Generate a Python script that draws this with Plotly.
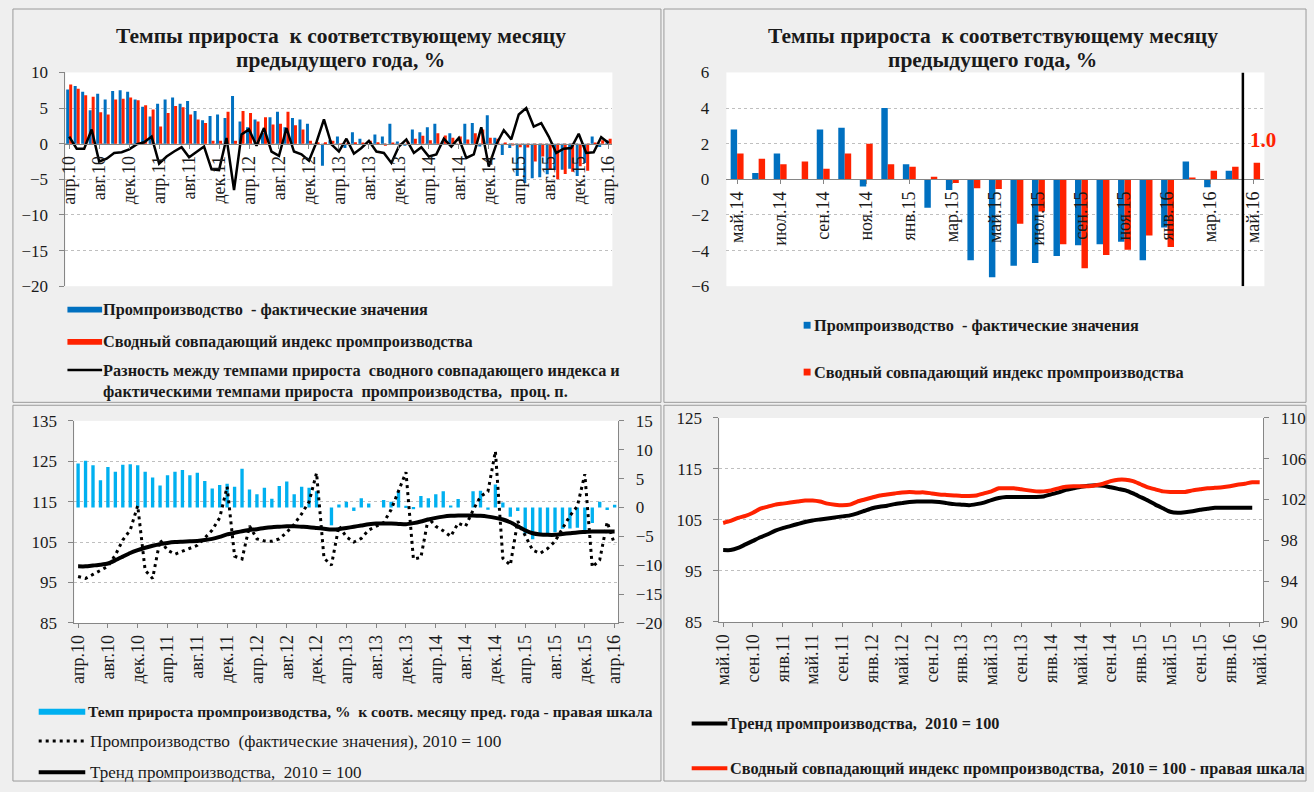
import plotly.graph_objects as go

W, H = 1314, 792
def fx(p): return p / W
def fy(p): return 1 - p / H

SERIF = "Liberation Serif"
BLUE = "#0070C0"
RED = "#FF2200"
CYAN = "#00B0F0"
GRID = "#BFBFBF"
AXIS = "#868686"
TXT = "#1a1a1a"
BORDER = "#9a9a9a"

MONTHS = ["янв", "фев", "мар", "апр", "май", "июн", "июл", "авг", "сен", "окт", "ноя", "дек"]
def month_labels(m0, y0, n):
    out, m, y = [], m0, y0
    for _ in range(n):
        out.append(f"{MONTHS[m]}.{y:02d}")
        m += 1
        if m == 12:
            m, y = 0, y + 1
    return out

# ---------------- data ----------------
TL_CATS = month_labels(3, 10, 73)          # апр.10 .. апр.16
TL_TICKS = ["апр.10", "авг.10", "дек.10", "апр.11", "авг.11", "дек.11", "апр.12", "авг.12", "дек.12",
            "апр.13", "авг.13", "дек.13", "апр.14", "авг.14", "дек.14", "апр.15", "авг.15", "дек.15", "апр.16"]
TL_BLUE = [7.6, 8.1, 7.3, 4.7, 7.0, 6.2, 7.4, 7.5, 7.3, 6.2, 5.2, 3.8,
           5.6, 6.2, 6.5, 5.6, 6.0, 4.6, 3.3, 3.9, 4.1, 3.6, 6.7, 3.1,
           2.3, 3.4, 1.5, 3.7, 4.5, 2.3, 3.6, 3.4, 2.8, 0.0, -3.1, 0.5,
           1.0, -0.6, 1.6, 0.7, 0.0, 1.3, 1.0, 2.8, 0.3, -0.3, 2.0, 1.6,
           2.3, 2.8, 0.35, 1.45, 0.0, 2.8, 2.9, -0.4, 4.0, 0.85, -1.6, -0.6,
           -4.55, -5.5, -4.85, -4.7, -4.3, -3.7, -3.65, -3.5, -4.55, -2.7, 1.0, -0.45,
           0.48]
TL_RED = [8.3, 7.7, 6.8, 6.6, 4.4, 4.1, 6.2, 6.3, 6.5, 6.1, 5.4, 4.8,
          2.4, 4.3, 5.3, 5.1, 4.1, 3.4, 2.9, 0.4, 0.4, 4.5, 0.4, 4.6,
          4.3, 3.1, 3.7, 2.7, 2.8, 4.5, 2.6, 2.0, 0.4, 0.2, 0.2, 0.4,
          -0.1, 0.1, 0.2, 0.1, 0.4, 0.2, -0.3, 0.1, -0.1, 0.3, 0.7, 1.1,
          0.5, 1.45, 1.15, 0.85, 1.0, 0.6, 1.45, 2.0, 0.85, 0.7, 0.15, -0.2,
          -0.5, -0.55, -2.5, -1.8, -3.65, -5.0, -4.25, -3.95, -3.15, -3.8, 0.05, 0.48,
          0.7]
TL_DIFF = [1.0, -0.7, -0.7, 2.0, -2.5, -2.1, -1.3, -1.2, -0.8, -0.1, 0.2, 1.0,
           -2.8, -1.8, -1.1, -0.5, -1.9, -1.2, -0.4, -3.6, -3.7, 0.8, -6.5, 1.3,
           2.0, -0.3, 2.2, -1.1, -1.7, 2.2, -1.1, -1.5, -2.4, 0.2, 3.4, -0.1,
           -1.1, 0.7, -1.4, -0.6, 0.4, -1.1, -1.3, -2.7, -0.4, 0.6, -1.3, -0.5,
           -1.8, -1.5, 0.7, -0.4, 0.8, -2.0, -1.5, 2.3, -3.2, -0.1, 1.9, 0.6,
           4.1, 5.0, 2.4, 2.9, 1.0, -1.3, -0.7, -0.6, 1.4, -1.3, -1.2, 0.9,
           0.1]

TR_CATS = month_labels(4, 14, 25)          # май.14 .. май.16
TR_TICKS = ["май.14", "июл.14", "сен.14", "ноя.14", "янв.15", "мар.15", "май.15",
            "июл.15", "сен.15", "ноя.15", "янв.16", "мар.16", "май.16"]
TR_BLUE = [2.8, 0.35, 1.45, 0.0, 2.8, 2.9, -0.4, 4.0, 0.85, -1.6, -0.6, -4.55,
           -5.5, -4.85, -4.7, -4.3, -3.7, -3.65, -3.5, -4.55, -2.7, 1.0, -0.45, 0.48, None]
TR_RED = [1.45, 1.15, 0.85, 1.0, 0.6, 1.45, 2.0, 0.85, 0.7, 0.15, -0.2, -0.5,
          -0.55, -2.5, -1.8, -3.65, -5.0, -4.25, -3.95, -3.15, -3.8, 0.05, 0.48, 0.7, 0.93]
TR_LAST_LABEL = "1.0"

BL_CATS = TL_CATS
BL_TICKS = TL_TICKS
BL_GROWTH = TL_BLUE
BL_ACTUAL = [96.5, 96.0, 97.0, 98.0, 99.0, 101.8, 105.5, 108.0, 114.0,
             98.0, 96.0, 105.5, 103.0, 102.0, 102.7, 103.5, 104.2, 106.0, 108.0, 111.0, 118.7,
             101.5, 100.8, 109.0, 105.8, 105.3, 105.2, 105.8, 107.4, 109.4, 112.0, 115.0, 122.1,
             101.0, 99.3, 109.0, 106.3, 105.0, 105.9, 108.0, 108.9, 109.8, 113.0, 117.5, 122.3,
             100.8, 101.2, 111.0, 108.9, 107.8, 106.4, 109.7, 108.9, 112.9, 116.3, 117.5, 127.5,
             101.0, 99.3, 110.2, 106.5, 103.0, 102.2, 103.4, 105.2, 108.2, 111.5, 113.9, 121.8,
             98.8, 100.6, 110.0, 104.4]
BL_TREND = [99.0, 99.0, 99.2, 99.4, 99.7, 100.5, 101.4, 102.3, 103.0, 103.6, 104.1, 104.5,
            104.8, 105.0, 105.1, 105.2, 105.3, 105.5, 105.8, 106.3, 106.9, 107.3, 107.7, 108.0,
            108.2, 108.5, 108.7, 108.8, 108.9, 108.9, 108.8, 108.7, 108.5, 108.3, 108.1, 108.2,
            108.5, 108.8, 109.1, 109.4, 109.6, 109.6, 109.6, 109.5, 109.4, 109.7, 110.1, 110.6,
            111.0, 111.3, 111.5, 111.6, 111.6, 111.6, 111.5, 111.3, 111.0, 110.6, 109.9, 108.9,
            107.9, 107.2, 106.9, 106.8, 106.8, 107.0, 107.2, 107.4, 107.5, 107.6, 107.6, 107.6,
            107.6]

BR_CATS = month_labels(4, 10, 73)          # май.10 .. май.16
BR_TICKS = ["май.10", "сен.10", "янв.11", "май.11", "сен.11", "янв.12", "май.12", "сен.12", "янв.13",
            "май.13", "сен.13", "янв.14", "май.14", "сен.14", "янв.15", "май.15", "сен.15", "янв.16", "май.16"]
BR_TREND = [99.1, 99.1, 99.5, 100.2, 100.9, 101.6, 102.2, 102.9, 103.4, 103.8, 104.2, 104.6,
            104.9, 105.1, 105.3, 105.5, 105.7, 105.9, 106.3, 106.8, 107.3, 107.6, 107.8, 108.1,
            108.3, 108.5, 108.6, 108.6, 108.6, 108.5, 108.3, 108.1, 108.0, 107.9, 108.1, 108.4,
            108.9, 109.3, 109.5, 109.5, 109.5, 109.5, 109.5, 109.6, 110.0, 110.4, 110.9, 111.2,
            111.5, 111.7, 111.8, 111.7, 111.4, 111.1, 110.8, 110.2, 109.5, 108.8, 108.0, 107.3,
            106.6, 106.4, 106.5, 106.7, 107.0, 107.2, 107.4, 107.4, 107.4, 107.4, 107.4, 107.4,
            None]
BR_COMPOSITE = [99.7, 99.9, 100.2, 100.4, 100.7, 101.1, 101.3, 101.5, 101.6, 101.7, 101.8, 101.9,
                101.9, 101.8, 101.6, 101.5, 101.45, 101.5, 101.8, 102.0, 102.2, 102.4, 102.5, 102.6,
                102.7, 102.75, 102.7, 102.7, 102.6, 102.5, 102.45, 102.4, 102.35, 102.35, 102.4, 102.6,
                102.8, 103.1, 103.1, 103.1, 103.0, 102.9, 102.8, 102.8, 102.9, 103.1, 103.25, 103.3,
                103.3, 103.3, 103.4, 103.55, 103.8, 103.95, 103.95, 103.8, 103.5, 103.2, 103.0, 102.8,
                102.75, 102.75, 102.75, 102.9, 103.0, 103.1, 103.15, 103.2, 103.3, 103.45, 103.55, 103.7,
                103.7]

TITLE_LINES = ["Темпы прироста  к соответствующему месяцу", "предыдущего года, %"]
TL_LEGEND = ["Промпроизводство  - фактические значения",
             "Сводный совпадающий индекс промпроизводства",
             "Разность между темпами прироста  сводного совпадающего индекса и",
             "фактическими темпами прироста  промпроизводства,  проц. п."]
TR_LEGEND = ["Промпроизводство  - фактические значения",
             "Сводный совпадающий индекс промпроизводства"]
BL_LEGEND = ["Темп прироста промпроизводства, %  к соотв. месяцу пред. года - правая шкала",
             "Промпроизводство  (фактические значения), 2010 = 100",
             "Тренд промпроизводства,  2010 = 100"]
BR_LEGEND = ["Тренд промпроизводства,  2010 = 100",
             "Сводный совпадающий индекс промпроизводства,  2010 = 100 - правая шкала"]

for arr, n in [(TL_BLUE, 73), (TL_RED, 73), (TL_DIFF, 73), (TR_BLUE, 25), (TR_RED, 25),
               (BL_ACTUAL, 73), (BL_TREND, 73), (BR_TREND, 73), (BR_COMPOSITE, 73)]:
    assert len(arr) == n, (len(arr), n)

# ---------------- traces ----------------
fig = go.Figure()
fig.add_trace(go.Bar(x=TL_CATS, y=TL_BLUE, xaxis="x", yaxis="y", width=0.4, offset=-0.4,
                     marker=dict(color=BLUE, line=dict(width=0)), showlegend=False))
fig.add_trace(go.Bar(x=TL_CATS, y=TL_RED, xaxis="x", yaxis="y", width=0.4, offset=0.0,
                     marker=dict(color=RED, line=dict(width=0)), showlegend=False))
fig.add_trace(go.Scatter(x=TL_CATS, y=TL_DIFF, xaxis="x", yaxis="y", mode="lines",
                         line=dict(color="black", width=2.5), showlegend=False))

fig.add_trace(go.Bar(x=TR_CATS, y=TR_BLUE, xaxis="x2", yaxis="y2", width=0.3, offset=-0.3,
                     marker=dict(color=BLUE, line=dict(width=0)), showlegend=False))
fig.add_trace(go.Bar(x=TR_CATS, y=TR_RED, xaxis="x2", yaxis="y2", width=0.3, offset=0.0,
                     marker=dict(color=RED, line=dict(width=0)), showlegend=False))

fig.add_trace(go.Bar(x=BL_CATS, y=BL_GROWTH, xaxis="x3", yaxis="y3", width=0.45, offset=-0.225,
                     marker=dict(color=CYAN, line=dict(width=0)), showlegend=False))
fig.add_trace(go.Scatter(x=BL_CATS, y=BL_ACTUAL, xaxis="x3", yaxis="y4", mode="lines",
                         line=dict(color="black", width=3, dash="3px,4px"), showlegend=False))
fig.add_trace(go.Scatter(x=BL_CATS, y=BL_TREND, xaxis="x3", yaxis="y4", mode="lines",
                         line=dict(color="black", width=4, shape="spline", smoothing=0.6), showlegend=False))

fig.add_trace(go.Scatter(x=BR_CATS, y=BR_TREND, xaxis="x4", yaxis="y5", mode="lines",
                         line=dict(color="black", width=4, shape="spline", smoothing=0.6), showlegend=False))
fig.add_trace(go.Scatter(x=BR_CATS, y=BR_COMPOSITE, xaxis="x4", yaxis="y6", mode="lines",
                         line=dict(color=RED, width=4, shape="spline", smoothing=0.6), showlegend=False))

# ---------------- axes ----------------
xfont = dict(family=SERIF, size=18, color=TXT)
yfont = dict(family=SERIF, size=17, color=TXT)
def cat_x(domain, cats, ticks, **kw):
    d = dict(domain=domain, type="category", categoryorder="array", categoryarray=cats,
             range=[-0.5, len(cats) - 0.5], tickmode="array", tickvals=ticks, ticktext=ticks,
             tickangle=-90, showline=True, linecolor=AXIS, linewidth=1, ticks="outside",
             ticklen=4, tickcolor=AXIS, showgrid=False, zeroline=False, tickfont=xfont,
             fixedrange=True)
    d.update(kw)
    return d

tl_y = [fy(284), fy(65)]
pos_tl = tl_y[0] + (tl_y[1] - tl_y[0]) * 20 / 30
pos_tr = (tl_y[0] + tl_y[1]) / 2

layout_axes = dict(
    xaxis=cat_x([fx(60), fx(612)], TL_CATS, TL_TICKS, anchor="free", position=pos_tl),
    yaxis=dict(domain=tl_y, anchor="x", range=[-20, 10], tickmode="linear", tick0=0, dtick=5,
               showgrid=True, gridcolor=GRID, griddash="dot", gridwidth=1, zeroline=False,
               showline=True, linecolor=AXIS, ticks="outside", ticklen=5, tickcolor=AXIS,
               ticklabelstandoff=8, tickfont=yfont, fixedrange=True),
    xaxis2=cat_x([fx(727), fx(1270)], TR_CATS, TR_TICKS, anchor="free", position=pos_tr),
    yaxis2=dict(domain=tl_y, anchor="x2", range=[-6, 6], tickmode="linear", tick0=0, dtick=2,
                showgrid=True, gridcolor=GRID, griddash="dot", gridwidth=1, zeroline=False,
                showline=False, ticks="", ticklabelstandoff=16, tickfont=yfont, fixedrange=True),
    xaxis3=cat_x([fx(69), fx(618)], BL_CATS, BL_TICKS, anchor="y3"),
    yaxis3=dict(domain=[fy(629), fy(422)], anchor="x3", side="right", range=[-20, 15],
                tickmode="linear", tick0=0, dtick=5, showgrid=False, zeroline=False,
                showline=True, linecolor=AXIS, ticks="outside", ticklen=5, tickcolor=AXIS,
                ticklabelstandoff=8, tickfont=yfont, fixedrange=True),
    yaxis4=dict(overlaying="y3", anchor="x3", side="left", range=[85, 135], tickmode="linear",
                tick0=85, dtick=10, showgrid=True, gridcolor=GRID, griddash="dot", gridwidth=1,
                zeroline=False, showline=True, linecolor=AXIS, ticks="outside", ticklen=5,
                tickcolor=AXIS, ticklabelstandoff=8, tickfont=yfont, fixedrange=True),
    xaxis4=cat_x([fx(720), fx(1269)], BR_CATS, BR_TICKS, anchor="y5"),
    yaxis5=dict(domain=[fy(628), fy(419)], anchor="x4", side="left", range=[85, 125],
                tickmode="linear", tick0=85, dtick=10, showgrid=True, gridcolor=GRID,
                griddash="dot", gridwidth=1, zeroline=False, showline=True, linecolor=AXIS,
                ticks="outside", ticklen=5, tickcolor=AXIS, ticklabelstandoff=8,
                tickfont=yfont, fixedrange=True),
    yaxis6=dict(overlaying="y5", anchor="x4", side="right", range=[90, 110], tickmode="linear",
                tick0=90, dtick=4, showgrid=False, zeroline=False, showline=True, linecolor=AXIS,
                ticks="outside", ticklen=5, tickcolor=AXIS, ticklabelstandoff=8,
                tickfont=yfont, fixedrange=True),
)

# ---------------- shapes ----------------
shapes = []
def rect(x0, y0, x1, y1, fill=None, line=None, lw=1):
    shapes.append(dict(type="rect", xref="paper", yref="paper", x0=fx(x0), x1=fx(x1),
                       y0=fy(y1), y1=fy(y0), fillcolor=fill or "rgba(0,0,0,0)",
                       line=dict(color=line or "rgba(0,0,0,0)", width=lw if line else 0),
                       layer="below" if fill is None else "above"))
def hline(x0, x1, y, color, width, dash="solid"):
    shapes.append(dict(type="line", xref="paper", yref="paper", x0=fx(x0), x1=fx(x1),
                       y0=fy(y), y1=fy(y), line=dict(color=color, width=width, dash=dash)))

# panel borders
rect(7, 0, 661, 403, line=BORDER)
rect(664, 0, 1312, 403, line=BORDER)
rect(7, 406, 661, 791, line=BORDER)
rect(664, 406, 1312, 791, line=BORDER)

# separator line in top-right chart
shapes.append(dict(type="line", xref="x2", yref="y2", x0=23.5, x1=23.5, y0=-6, y1=6,
                   line=dict(color="black", width=2.5)))

# legend keys
rect(62, 305, 97, 311, fill=BLUE)
rect(62, 338, 97, 344, fill=RED)
hline(62, 97, 370, "black", 2.5)
rect(805, 320.5, 812, 327.5, fill=BLUE)
rect(805, 368.5, 812, 375.5, fill=RED)
rect(33, 717, 80, 723, fill=CYAN)
hline(33, 80, 750, "black", 3, "3px,4px")
hline(33, 80, 782, "black", 4)
hline(692, 728, 732, "black", 4)
hline(692, 728, 778, RED, 4)

# ---------------- annotations ----------------
ann = []
def text(x, y, s, size=16.3, bold=True, color=TXT, xanchor="left", yanchor="middle"):
    ann.append(dict(xref="paper", yref="paper", x=fx(x), y=fy(y), text=s, showarrow=False,
                    xanchor=xanchor, yanchor=yanchor,
                    font=dict(family=SERIF, size=size, color=color,
                              weight="bold" if bold else "normal")))

for cx in (338, 996):
    text(cx, 28, TITLE_LINES[0], size=21.5, xanchor="center")
    text(cx, 52, TITLE_LINES[1], size=21.5, xanchor="center")

text(96, 308, TL_LEGEND[0])
text(96, 341, TL_LEGEND[1])
text(96, 370, TL_LEGEND[2])
text(96, 392, TL_LEGEND[3])
text(813, 324, TR_LEGEND[0])
text(813, 372, TR_LEGEND[1])
text(81, 720, BL_LEGEND[0], size=15.5)
text(83, 750, BL_LEGEND[1], size=17.3, bold=False)
text(83, 782, BL_LEGEND[2], size=17.0, bold=False)
text(727, 732, BR_LEGEND[0], size=16.3)
text(729, 778, BR_LEGEND[1], size=16.3)

ann.append(dict(xref="x2", yref="y2", x=TR_CATS[-1], y=TR_RED[-1], text=TR_LAST_LABEL,
                showarrow=False, xanchor="center", yanchor="bottom", yshift=9, xshift=9,
                font=dict(family=SERIF, size=21, color=RED, weight="bold")))

fig.update_layout(
    width=W, height=H, autosize=False,
    margin=dict(l=0, r=0, t=0, b=0, pad=0),
    paper_bgcolor="#EFEFEF", plot_bgcolor="white",
    barmode="overlay", showlegend=False,
    font=dict(family=SERIF, color=TXT),
    shapes=shapes, annotations=ann,
    **layout_axes,
)

fig.write_html("out.html", include_plotlyjs=True, config={"displayModeBar": False},
               post_script="document.body.style.margin='0';document.body.style.overflow='hidden';")
